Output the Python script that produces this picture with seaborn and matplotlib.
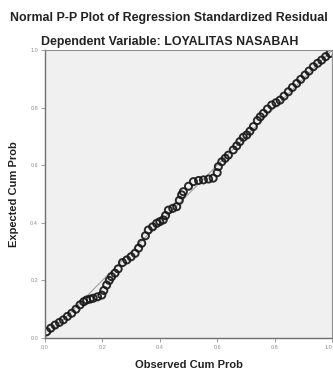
import numpy as np
import pandas as pd
import seaborn as sns
import matplotlib
matplotlib.use('Agg')
import matplotlib.pyplot as plt

# 数据
observed = [0.006, 0.020, 0.035, 0.050, 0.064, 0.078, 0.093, 0.108, 0.122, 0.135,
            0.145, 0.157, 0.168, 0.183, 0.198, 0.205, 0.215, 0.224, 0.232, 0.244,
            0.255, 0.270, 0.285, 0.300, 0.314, 0.326, 0.337, 0.350, 0.360, 0.375,
            0.389, 0.400, 0.412, 0.420, 0.430, 0.445, 0.459, 0.468, 0.476, 0.482,
            0.500, 0.517, 0.535, 0.552, 0.570, 0.586, 0.600, 0.604, 0.616, 0.628,
            0.639, 0.656, 0.668, 0.679, 0.691, 0.703, 0.714, 0.726, 0.740, 0.750,
            0.761, 0.775, 0.790, 0.805, 0.819, 0.833, 0.848, 0.862, 0.877, 0.891,
            0.906, 0.920, 0.935, 0.950, 0.964, 0.978, 0.993]
expected = [0.022, 0.034, 0.045, 0.054, 0.063, 0.075, 0.086, 0.100, 0.115, 0.126,
            0.132, 0.135, 0.138, 0.143, 0.149, 0.165, 0.184, 0.200, 0.213, 0.225,
            0.240, 0.262, 0.271, 0.282, 0.294, 0.312, 0.329, 0.355, 0.375, 0.386,
            0.398, 0.404, 0.410, 0.425, 0.444, 0.450, 0.456, 0.478, 0.497, 0.508,
            0.527, 0.543, 0.547, 0.549, 0.552, 0.555, 0.574, 0.595, 0.612, 0.624,
            0.635, 0.653, 0.667, 0.682, 0.697, 0.705, 0.718, 0.734, 0.755, 0.768,
            0.780, 0.795, 0.809, 0.817, 0.826, 0.840, 0.855, 0.870, 0.884, 0.898,
            0.913, 0.927, 0.942, 0.954, 0.965, 0.977, 0.988]
ticks = [0.0, 0.2, 0.4, 0.6, 0.8, 1.0]
tick_labels = ['0.0', '0.2', '0.4', '0.6', '0.8', '1.0']

sns.set_style('white')
plt.rcParams['font.family'] = ['Liberation Sans', 'DejaVu Sans']

df = pd.DataFrame({'Observed Cum Prob': observed, 'Expected Cum Prob': expected})

fig = plt.figure(figsize=(3.33, 3.70), dpi=100)
ax = fig.add_axes([45 / 333, 32 / 370, 287 / 333, 288 / 370])
ax.set_facecolor('#f0f0f0')

# 参考线
ax.plot([0, 1], [0, 1], color='#a0a0a0', lw=0.8, zorder=1)

sns.scatterplot(data=df, x='Observed Cum Prob', y='Expected Cum Prob', ax=ax,
                s=26, marker='o', facecolor='none', edgecolor='#151515',
                linewidth=1.4, alpha=0.9, zorder=2)

ax.set_xlim(0, 1)
ax.set_ylim(0, 1)
ax.set_xticks(ticks)
ax.set_yticks(ticks)
ax.set_xticklabels(tick_labels)
ax.set_yticklabels(tick_labels)
ax.tick_params(axis='both', labelsize=4, colors='#909090', length=3, width=0.6,
               direction='out', pad=2)
ax.tick_params(left=True, bottom=True)
ax.get_xticklabels()[-1].set_horizontalalignment('right')

for side in ['left', 'bottom']:
    ax.spines[side].set_color('#707070')
    ax.spines[side].set_linewidth(1.0)
for side in ['top', 'right']:
    ax.spines[side].set_color('#909090')
    ax.spines[side].set_linewidth(0.8)

ax.set_xlabel('Observed Cum Prob', fontsize=8, fontweight='bold', color='#222222', labelpad=7)
ax.set_ylabel('Expected Cum Prob', fontsize=8, fontweight='bold', color='#222222', labelpad=8)

fig.text(0.508, 0.952, 'Normal P-P Plot of Regression Standardized Residual',
         ha='center', va='center', fontsize=8.9, fontweight='bold', color='#222222')
fig.text(0.51, 0.887, 'Dependent Variable: LOYALITAS NASABAH',
         ha='center', va='center', fontsize=8.9, fontweight='bold', color='#222222')

fig.savefig('out.png', dpi=100)
